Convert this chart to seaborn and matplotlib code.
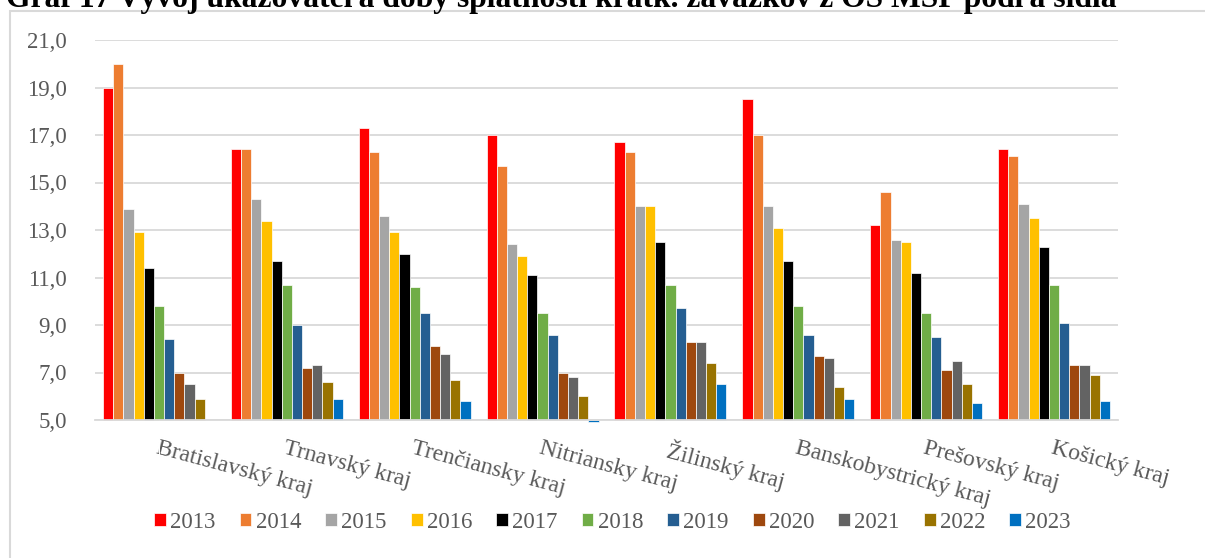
import numpy as np
import pandas as pd
import matplotlib
matplotlib.use("Agg")
import matplotlib.pyplot as plt
from matplotlib.patches import Rectangle
import seaborn as sns

# -----------------------------
# Data
# -----------------------------
regions = ["Bratislavský kraj", "Trnavský kraj", "Trenčiansky kraj", "Nitriansky kraj",
           "Žilinský kraj", "Banskobystrický kraj", "Prešovský kraj", "Košický kraj"]
years = ["2013", "2014", "2015", "2016", "2017", "2018", "2019", "2020", "2021", "2022", "2023"]

v2013 = [19.0, 16.4, 17.3, 17.0, 16.7, 18.5, 13.2, 16.4]
v2014 = [20.0, 16.4, 16.3, 15.7, 16.3, 17.0, 14.6, 16.1]
v2015 = [13.9, 14.3, 13.6, 12.4, 14.0, 14.0, 12.6, 14.1]
v2016 = [12.9, 13.4, 12.9, 11.9, 14.0, 13.1, 12.5, 13.5]
v2017 = [11.4, 11.7, 12.0, 11.1, 12.5, 11.7, 11.2, 12.3]
v2018 = [9.8, 10.7, 10.6, 9.5, 10.7, 9.8, 9.5, 10.7]
v2019 = [8.4, 9.0, 9.5, 8.6, 9.7, 8.6, 8.5, 9.1]
v2020 = [7.0, 7.2, 8.1, 7.0, 8.3, 7.7, 7.1, 7.3]
v2021 = [6.5, 7.3, 7.8, 6.8, 8.3, 7.6, 7.5, 7.3]
v2022 = [5.9, 6.6, 6.7, 6.0, 7.4, 6.4, 6.5, 6.9]
v2023 = [np.nan, 5.9, 5.8, 4.9, 6.5, 5.9, 5.7, 5.8]

series = [v2013, v2014, v2015, v2016, v2017, v2018, v2019, v2020, v2021, v2022, v2023]

colors = ["#FF0000", "#ED7D31", "#A5A5A5", "#FFC000", "#000000", "#70AD47",
          "#255E91", "#9E480E", "#636363", "#997300", "#0070C0"]

rows = []
for y, vals in zip(years, series):
    for r, v in zip(regions, vals):
        rows.append({"kraj": r, "rok": y, "hodnota": v})
df = pd.DataFrame(rows).dropna()

# -----------------------------
# Plot
# -----------------------------
sns.set_style("white")
plt.rcParams["font.family"] = ["Liberation Serif", "DejaVu Serif"]
grey = "#595959"
grid = "#D9D9D9"
base = 5.0

W, H = 1205, 558
fig = plt.figure(figsize=(W / 100, H / 100), dpi=100)
ax = fig.add_axes([95 / W, 1 - 420 / H, (1118 - 95) / W, (420 - 40) / H])

sns.barplot(data=df, x="kraj", y="hodnota", hue="rok", order=regions, hue_order=years,
            palette=colors, width=0.875, edgecolor="white", linewidth=0.5,
            saturation=1, ax=ax)

# bars start at the axis minimum (5,0), like in the original
for p in ax.patches:
    h = p.get_height()
    p.set_y(base)
    p.set_height(h - base)
    p.set_clip_on(False)

ax.set_ylim(5, 21)
ax.set_xlim(-0.5, len(regions) - 0.5)
ax.set_yticks(np.arange(5, 22, 2))
ax.set_yticklabels([f"{t:.1f}".replace(".", ",") for t in np.arange(5, 22, 2)])
ax.yaxis.grid(True, color=grid, linewidth=1.3)
ax.set_axisbelow(True)
for s in ["top", "right", "left"]:
    ax.spines[s].set_visible(False)
ax.spines["bottom"].set_color(grid)
ax.spines["bottom"].set_linewidth(1.3)
ax.set_xlabel("")
ax.set_ylabel("")

ax.tick_params(axis="y", length=0, pad=20, labelsize=16.5, labelcolor=grey)
ax.tick_params(axis="x", length=0, pad=13, labelsize=17, labelcolor=grey)
for lab in ax.get_xticklabels():
    lab.set_rotation(-15)
    lab.set_ha("left")
    lab.set_va("top")
    lab.set_rotation_mode("anchor")

handles, labels = ax.get_legend_handles_labels()
ax.legend_.remove()
fig.legend(handles, labels, loc="center", bbox_to_anchor=(0.5 + 10 / W, 1 - 522 / H), ncol=11,
           frameon=False, fontsize=16.5, labelcolor=grey, handlelength=0.52,
           handleheight=0.52, handletextpad=0.18, columnspacing=1.05)

# chart frame and title (cut off at the top edge, as in the source)
fig.patches.append(Rectangle((10 / W, -0.2), 1.2, 1.2 - 11 / H, transform=fig.transFigure,
                             fill=False, edgecolor=grid, linewidth=1.5))
fig.text(6 / W, 1 - 7 / H, "Graf 17 Vývoj ukazovateľa doby splatnosti krátk. záväzkov z OS MSP podľa sídla",
         ha="left", va="baseline", fontsize=22.8, fontweight="bold", color="black")

plt.savefig("out.png", dpi=100)
plt.close()
